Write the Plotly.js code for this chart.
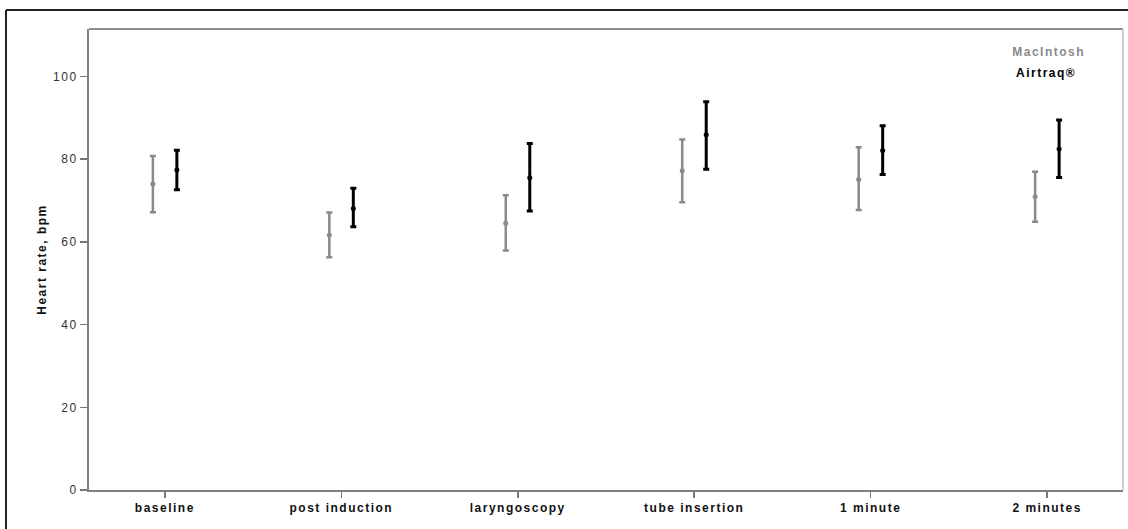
<!DOCTYPE html>
<html>
<head>
<meta charset="utf-8">
<script src="https://cdn.plot.ly/plotly-3.0.1.min.js"></script>
<style>
html,body{margin:0;padding:0;background:#fff;}
#chart{width:1128px;height:529px;}
#chart .xtick text{letter-spacing:1.5px;}
#chart .ytick text{letter-spacing:1.5px;}
#chart .ytitle{letter-spacing:1.5px;}
#chart .annotation-text{letter-spacing:1.5px;}
</style>
</head>
<body>
<div id="chart"></div>
<script>
// Categories (time points)
const categories = ["baseline", "post induction", "laryngoscopy", "tube insertion", "1 minute", "2 minutes"];

// MacIntosh: mean and 95% CI bounds (bpm)
const macMean  = [74.0, 61.7, 64.5, 77.2, 75.1, 70.9];
const macUpper = [80.8, 67.1, 71.3, 84.8, 82.9, 77.0];
const macLower = [67.2, 56.3, 57.9, 69.6, 67.7, 64.9];

// Airtraq: mean and 95% CI bounds (bpm)
const airMean  = [77.4, 68.1, 75.5, 85.9, 82.1, 82.5];
const airUpper = [82.2, 73.0, 83.8, 93.9, 88.1, 89.5];
const airLower = [72.6, 63.7, 67.5, 77.6, 76.3, 75.6];

const yTicks = [0, 20, 40, 60, 80, 100];

const idx = categories.map((c, i) => i);
const shift = 0.068;

function trace(name, mean, upper, lower, color, lw, dx) {
  return {
    type: "scatter",
    mode: "markers",
    name: name,
    x: idx.map(i => i + dx),
    y: mean,
    marker: {color: color, size: 5},
    error_y: {
      type: "data",
      symmetric: false,
      array: upper.map((u, i) => u - mean[i]),
      arrayminus: mean.map((m, i) => m - lower[i]),
      color: color,
      thickness: lw,
      width: 3
    },
    showlegend: false,
    hoverinfo: "y"
  };
}

const data = [
  trace("MacIntosh", macMean, macUpper, macLower, "#8a8a8a", 2.5, -shift),
  trace("Airtraq®", airMean, airUpper, airLower, "#000000", 3, shift)
];

const W = 1128, H = 529;
const L = 89, R = 5, T = 29, B = 39;
const pw = W - L - R, ph = H - T - B;
const bx = (6 - L) / pw;
const by = (H - B - 10) / ph;

const layout = {
  width: W, height: H,
  margin: {l: L, r: R, t: T, b: B, pad: 0},
  paper_bgcolor: "#fff",
  plot_bgcolor: "#fff",
  font: {family: "Liberation Sans, Arial, sans-serif", color: "#222", size: 12},
  xaxis: {
    range: [-0.43, 5.43],
    tickmode: "array",
    tickvals: idx,
    ticktext: categories,
    ticks: "outside",
    ticklen: 6,
    tickwidth: 1.5,
    tickcolor: "#777",
    showgrid: false,
    zeroline: false,
    showline: true,
    linecolor: "#808080",
    linewidth: 2,
    tickfont: {family: "Liberation Sans, Arial, sans-serif", size: 12, color: "#111", weight: "bold"},
    fixedrange: true
  },
  yaxis: {
    range: [0, 111.5],
    tickmode: "array",
    tickvals: yTicks,
    ticktext: yTicks.map(String),
    ticks: "outside",
    ticklen: 7,
    tickwidth: 1.5,
    tickcolor: "#777",
    showgrid: false,
    zeroline: false,
    showline: true,
    linecolor: "#808080",
    linewidth: 2,
    tickfont: {family: "Liberation Sans, Arial, sans-serif", size: 12, color: "#333"},
    title: {text: "<b>Heart rate, bpm</b>", standoff: 8, font: {size: 12, color: "#111"}},
    automargin: false,
    fixedrange: true
  },
  shapes: [
    {type: "line", xref: "paper", yref: "paper", x0: 0, x1: 1, y0: 1, y1: 1, line: {color: "#8c8c8c", width: 2}},
    {type: "line", xref: "paper", yref: "paper", x0: 1, x1: 1, y0: 0, y1: 1, line: {color: "#cfcfcf", width: 2}},
    {type: "line", xref: "paper", yref: "paper", x0: bx, x1: bx, y0: -0.3, y1: by, line: {color: "#222", width: 2}},
    {type: "line", xref: "paper", yref: "paper", x0: bx, x1: 1.2, y0: by, y1: by, line: {color: "#222", width: 2}}
  ],
  annotations: [
    {xref: "paper", yref: "paper", x: (1017 - L) / pw, y: (H - B - 52) / ph, xanchor: "left", yanchor: "middle", showarrow: false,
     text: "<b>MacIntosh</b>", font: {size: 12, color: "#8a8a8a"}},
    {xref: "paper", yref: "paper", x: (1020 - L) / pw, y: (H - B - 73) / ph, xanchor: "left", yanchor: "middle", showarrow: false,
     text: "<b>Airtraq®</b>", font: {size: 12, color: "#000"}}
  ]
};

Plotly.newPlot("chart", data, layout, {displayModeBar: false, staticPlot: true});
</script>
</body>
</html>
